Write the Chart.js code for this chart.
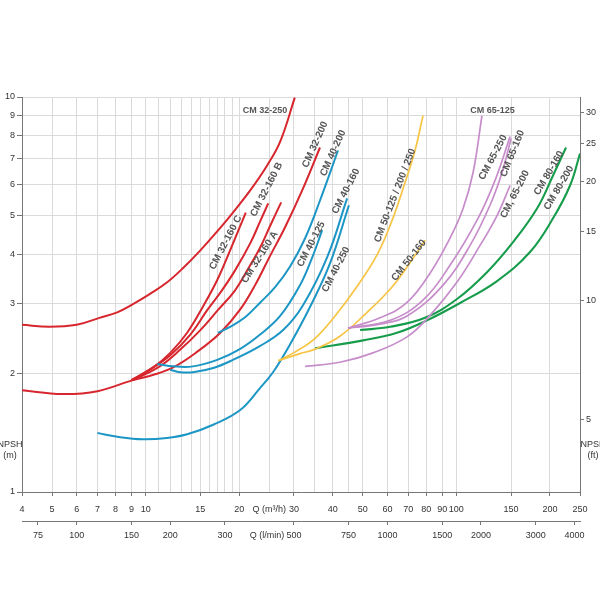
<!DOCTYPE html>
<html>
<head>
<meta charset="utf-8">
<title>NPSH curves CM</title>
<script src="https://cdn.jsdelivr.net/npm/chart.js@4.4.1/dist/chart.umd.min.js"></script>
<style>
  html, body { margin: 0; padding: 0; background: #fff; }
  #wrap { width: 600px; height: 600px; }
</style>
</head>
<body>
<div id="wrap"><canvas id="npshChart"></canvas></div>
<script>
// Q in m3/h, NPSH in m
const q32_250 = [4, 4.9, 6, 7.1, 8.1, 9.1, 10.3, 11.7, 13.2, 15, 17, 19.1, 21.7, 24.6, 27.1, 30.2];
const h32_250 = [2.65, 2.62, 2.65, 2.76, 2.85, 2.99, 3.17, 3.39, 3.69, 4.09, 4.57, 5.1, 5.8, 6.71, 7.71, 9.96];
const q32_200 = [4, 5.4, 7, 9.1, 10.6, 12.3, 14.6, 17.4, 20.1, 22.5, 25.1, 28.1, 31.9, 36.4];
const h32_200 = [1.81, 1.77, 1.8, 1.92, 1.98, 2.07, 2.26, 2.53, 2.89, 3.34, 3.95, 4.68, 5.8, 7.45];
const q32_160c = [9.0, 10.6, 12.0, 13.6, 15.3, 17.0, 18.7, 21.0];
const h32_160c = [1.92, 2.07, 2.25, 2.53, 2.95, 3.44, 4.09, 5.1];
const q32_160b = [9.0, 10.3, 12.0, 13.9, 15.8, 17.6, 19.4, 21.7, 23.3, 24.8];
const h32_160b = [1.92, 2.04, 2.22, 2.5, 2.89, 3.24, 3.64, 4.26, 4.82, 5.38];
const q32_160a = [9.1, 11.1, 12.9, 15.0, 17.1, 19.4, 21.7, 23.3, 25.1, 27.3];
const h32_160a = [1.92, 2.08, 2.29, 2.57, 2.89, 3.24, 3.75, 4.14, 4.7, 5.41];

const q40_200 = [17.1, 18.7, 20.9, 23.3, 26.1, 29.2, 32.6, 36.4, 41.6];
const h40_200 = [2.53, 2.62, 2.77, 3.01, 3.3, 3.73, 4.39, 5.47, 7.32];
const q40_125 = [10.9, 12.3, 14.2, 17.0, 20.1, 23.3, 27.1, 31.4, 34.3, 37.0];
const h40_125 = [2.11, 2.08, 2.08, 2.16, 2.3, 2.5, 2.79, 3.34, 3.91, 4.6];
const q40_160 = [12.0, 12.9, 14.2, 16.5, 19.1, 23.3, 27.7, 32.1, 38.4, 44.5];
const h40_160 = [2.04, 2.01, 2.01, 2.06, 2.16, 2.34, 2.57, 2.97, 3.93, 5.54];
const q40_250 = [7.0, 8.1, 9.8, 11.7, 13.6, 16.5, 20.1, 23.3, 25.7, 29.2, 33.8, 39.2, 45.1];
const h40_250 = [1.41, 1.38, 1.36, 1.37, 1.4, 1.48, 1.61, 1.83, 2.01, 2.37, 2.94, 3.79, 5.32];

const q50_125 = [26.7, 30.2, 35.1, 40.7, 47.2, 55.5, 62.1, 68.4, 73.6, 78.1];
const h50_125 = [2.15, 2.26, 2.45, 2.79, 3.26, 3.98, 4.87, 6.08, 7.32, 8.97];
const q50_160 = [26.7, 31.4, 35.1, 42.2, 51.6, 61.2, 69.4, 79.3];
const h50_160 = [2.15, 2.24, 2.3, 2.48, 2.85, 3.26, 3.71, 4.34];

const q65_125 = [44.8, 56.8, 69.4, 82.3, 95.4, 105.1, 113.2, 120.9];
const h65_125 = [2.6, 2.76, 3.02, 3.58, 4.39, 5.22, 6.44, 8.97];
const q65_250 = [44.8, 61.2, 78.1, 95.4, 117.4, 133.2, 148.9];
const h65_250 = [2.6, 2.72, 3.06, 3.75, 4.93, 6.15, 7.94];
const q65_160 = [44.8, 56.8, 69.4, 90.6, 110.7, 128.3, 140.3, 150.0];
const h65_160 = [2.6, 2.66, 2.79, 3.34, 4.21, 5.32, 6.44, 7.85];
const q65_200 = [32.6, 42.2, 53.9, 69.4, 82.3, 100.5, 119.2, 135.2, 148.9];
const h65_200 = [2.08, 2.13, 2.25, 2.47, 2.8, 3.4, 4.21, 5.01, 5.97];

const q80_160 = [49.0, 61.2, 79.3, 100.5, 125.5, 152.2, 181.8, 204.7, 225.4];
const h80_160 = [2.57, 2.62, 2.76, 3.08, 3.6, 4.29, 5.22, 6.33, 7.45];
const q80_200 = [35.1, 50.1, 64.4, 80.4, 102.8, 135.2, 172.6, 204.7, 232.2, 250];
const h80_200 = [2.31, 2.42, 2.53, 2.72, 3.01, 3.42, 4.05, 4.93, 5.97, 7.19];

// axes
const qGrid = [4, 5, 6, 7, 8, 9, 10, 11, 12, 13, 14, 15, 16, 17, 18, 19, 20, 25, 30, 35, 40, 45, 50, 60, 70, 80, 90, 100, 150, 200, 250];
const qTicks = [4, 5, 6, 7, 8, 9, 10, 15, 20, 25, 30, 40, 50, 60, 70, 80, 90, 100, 150, 200, 250];
const qTickText = ['4', '5', '6', '7', '8', '9', '10', '15', '20', 'Q (m³/h)', '30', '40', '50', '60', '70', '80', '90', '100', '150', '200', '250'];
const lpmTicks = [75, 100, 150, 200, 300, 410, 500, 750, 1000, 1500, 2000, 3000, 4000];
const lpmTickText = ['75', '100', '150', '200', '300', 'Q (l/min)', '500', '750', '1000', '1500', '2000', '3000', '4000'];
const mTicks = [1, 2, 3, 4, 5, 6, 7, 8, 9, 10];
const ftTicks = [5, 10, 15, 20, 25, 30];

const M_TO_FT = 3.2808;
const M3H_TO_LPM = 1000 / 60;

// curve names placed along the curves (Q, NPSH, angle in degrees)
const curveLabels = [
    { text: 'CM 32-250', q: 24.2, h: 9.24, angle: 0 },
    { text: 'CM 32-160 C', q: 18.1, h: 4.28, angle: -62.6 },
    { text: 'CM 32-160 B', q: 24.5, h: 5.83, angle: -62.8 },
    { text: 'CM 32-160 A', q: 23.3, h: 3.93, angle: -57.5 },
    { text: 'CM 32-200', q: 35.1, h: 7.58, angle: -65.7 },
    { text: 'CM 40-200', q: 40.1, h: 7.21, angle: -65.7 },
    { text: 'CM 40-160', q: 44.1, h: 5.77, angle: -62.6 },
    { text: 'CM 40-125', q: 34.1, h: 4.24, angle: -62.6 },
    { text: 'CM 40-250', q: 41.0, h: 3.66, angle: -62.6 },
    { text: 'CM 50-125 / 200 / 250', q: 63.5, h: 5.63, angle: -68.9 },
    { text: 'CM 50-160', q: 70.4, h: 3.86, angle: -51.6 },
    { text: 'CM 65-125', q: 130.7, h: 9.24, angle: 0 },
    { text: 'CM 65-250', q: 131.2, h: 7.03, angle: -61.9 },
    { text: 'CM 65-160', q: 151.6, h: 7.19, angle: -67.9 },
    { text: 'CM, 65-200', q: 154.4, h: 5.67, angle: -62.7 },
    { text: 'CM 80-160', q: 198.7, h: 6.42, angle: -59.6 },
    { text: 'CM 80-200', q: 214.0, h: 5.89, angle: -59.6 }
];

const RED = '#d7262d';
const BLUE = '#1c96c5';
const YELLOW = '#f7c443';
const PURPLE = '#c68dca';
const GREEN = '#179c4c';

function curve(label, q, h, color, width) {
    return {
        label: label,
        data: q.map((v, i) => ({ x: v, y: h[i] })),
        borderColor: color,
        borderWidth: width,
        pointRadius: 0,
        fill: false,
        tension: 0.4
    };
}

const datasets = [
    curve('CM 65-125', q65_125, h65_125, PURPLE, 1.7),
    curve('CM 65-250', q65_250, h65_250, PURPLE, 1.7),
    curve('CM 65-160', q65_160, h65_160, PURPLE, 1.7),
    curve('CM 65-200', q65_200, h65_200, PURPLE, 1.7),
    curve('CM 50-125 / 200 / 250', q50_125, h50_125, YELLOW, 1.7),
    curve('CM 50-160', q50_160, h50_160, YELLOW, 1.7),
    curve('CM 80-160', q80_160, h80_160, GREEN, 2.1),
    curve('CM 80-200', q80_200, h80_200, GREEN, 2.1),
    curve('CM 40-200', q40_200, h40_200, BLUE, 2),
    curve('CM 40-125', q40_125, h40_125, BLUE, 2),
    curve('CM 40-160', q40_160, h40_160, BLUE, 2),
    curve('CM 40-250', q40_250, h40_250, BLUE, 2),
    curve('CM 32-250', q32_250, h32_250, RED, 2),
    curve('CM 32-200', q32_200, h32_200, RED, 2),
    curve('CM 32-160 C', q32_160c, h32_160c, RED, 2),
    curve('CM 32-160 B', q32_160b, h32_160b, RED, 2),
    curve('CM 32-160 A', q32_160a, h32_160a, RED, 2)
];

const FONT = '"Liberation Sans", Arial, sans-serif';
const tickFont = { family: FONT, size: 9 };

function markColor(list, text, value) { // tick mark only under a number
    const t = text[list.indexOf(value)];
    return t && t[0] !== 'Q' ? '#777' : 'rgba(0,0,0,0)';
}

const labelPlugin = {
    id: 'curveLabels',
    afterDatasetsDraw(chart) {
        const ctx = chart.ctx;
        const xs = chart.scales.x;
        const ys = chart.scales.y;
        const area = chart.chartArea;
        ctx.save();
        ctx.fillStyle = '#555';
        ctx.textAlign = 'center';
        ctx.textBaseline = 'middle';
        for (let l of curveLabels) {
            ctx.save();
            ctx.font = (l.angle === 0 ? 'bold 9px ' : 'bold 10px ') + FONT;
            ctx.translate(xs.getPixelForValue(l.q), ys.getPixelForValue(l.h));
            ctx.rotate(l.angle * Math.PI / 180);
            ctx.fillText(l.text, 0, 0);
            ctx.restore();
        }
        // axis titles
        ctx.fillStyle = '#333';
        ctx.font = '9px ' + FONT;
        const yTitle = ys.getPixelForValue(1.32);
        ctx.fillText('NPSH', area.left - 12, yTitle);
        ctx.fillText('(m)', area.left - 12, yTitle + 11);
        ctx.fillText('NPSH', area.right + 13, yTitle);
        ctx.fillText('(ft)', area.right + 13, yTitle + 11);
        ctx.restore();
    }
};

new Chart(document.getElementById('npshChart'), {
    type: 'line',
    data: { datasets: datasets },
    plugins: [labelPlugin],
    options: {
        responsive: true,
        maintainAspectRatio: false,
        animation: false,
        layout: { padding: { top: 97, bottom: 52, left: 0, right: 0 } },
        plugins: {
            legend: { display: false },
            tooltip: { enabled: false }
        },
        scales: {
            x: {
                type: 'logarithmic',
                position: 'bottom',
                min: 4,
                max: 250,
                weight: 0,
                afterBuildTicks: s => { s.ticks = qGrid.map(v => ({ value: v })); },
                afterFit: s => { s.height = 29; },
                ticks: {
                    autoSkip: false,
                    maxRotation: 0,
                    minRotation: 0,
                    padding: 8,
                    color: '#333',
                    font: tickFont,
                    callback: v => { const i = qTicks.indexOf(v); return i >= 0 ? qTickText[i] : ''; }
                },
                grid: {
                    color: '#dadada',
                    tickLength: 4,
                    tickColor: c => markColor(qTicks, qTickText, c.tick ? c.tick.value : null)
                },
                border: { color: '#777' }
            },
            x2: {
                type: 'logarithmic',
                position: 'bottom',
                min: 4 * M3H_TO_LPM,
                max: 250 * M3H_TO_LPM,
                weight: 1,
                afterBuildTicks: s => { s.ticks = lpmTicks.map(v => ({ value: v })); },
                afterFit: s => { s.height = 27; },
                ticks: {
                    autoSkip: false,
                    maxRotation: 0,
                    minRotation: 0,
                    padding: 5,
                    color: '#333',
                    font: tickFont,
                    callback: v => { const i = lpmTicks.indexOf(v); return i >= 0 ? lpmTickText[i] : ''; }
                },
                grid: {
                    drawOnChartArea: false,
                    tickLength: 4,
                    tickColor: c => markColor(lpmTicks, lpmTickText, c.tick ? c.tick.value : null)
                },
                border: { color: '#777' }
            },
            y: {
                type: 'logarithmic',
                position: 'left',
                min: 1,
                max: 10,
                afterBuildTicks: s => { s.ticks = mTicks.map(v => ({ value: v })); },
                afterFit: s => { s.width = 22; },
                ticks: {
                    padding: 2,
                    color: '#333',
                    font: tickFont,
                    callback: v => String(v)
                },
                grid: { color: '#dadada', tickLength: 5, tickColor: '#777' },
                border: { color: '#777' }
            },
            y2: {
                type: 'logarithmic',
                position: 'right',
                min: 1 * M_TO_FT,
                max: 10 * M_TO_FT,
                afterBuildTicks: s => { s.ticks = ftTicks.map(v => ({ value: v })); },
                afterFit: s => { s.width = 20; },
                ticks: {
                    padding: 2,
                    color: '#333',
                    font: tickFont,
                    callback: v => String(v)
                },
                grid: { drawOnChartArea: false, tickLength: 4, tickColor: '#777' },
                border: { color: '#777' }
            }
        }
    }
});
</script>
</body>
</html>
